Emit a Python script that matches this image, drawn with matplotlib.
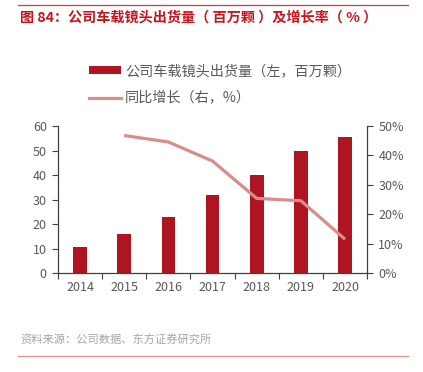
import matplotlib
matplotlib.use("Agg")
import matplotlib.pyplot as plt
from matplotlib.lines import Line2D
from matplotlib.patches import Patch
from matplotlib.ticker import FuncFormatter

plt.rcParams['font.family'] = ['Noto Sans CJK SC', 'DejaVu Sans']

# data
years = ['2014', '2015', '2016', '2017', '2018', '2019', '2020']
shipments = [10.8, 16.0, 23.0, 31.8, 40.0, 49.7, 55.5]   # 百万颗
growth_years = ['2015', '2016', '2017', '2018', '2019', '2020']
growth = [46.8, 44.6, 38.1, 25.4, 24.6, 11.5]           # %

bar_color = '#AE1520'
line_color = '#D98C8C'
axis_color = '#404040'
text_gray = '#595959'

fig = plt.figure(figsize=(4.23, 3.72), dpi=100)
ax = fig.add_axes([0.137, 0.266, 0.731, 0.395])

x = list(range(len(years)))
ax.bar(x, shipments, width=0.31, color=bar_color, zorder=2)
ax.set_xlim(-0.5, len(years) - 0.5)
ax.set_ylim(0, 60)
ax.set_yticks(range(0, 61, 10))

# x ticks between categories, labels centred on bars
ax.set_xticks([i - 0.5 for i in range(len(years) + 1)])
ax.set_xticklabels([])
ax.set_xticks(x, minor=True)
ax.set_xticklabels(years, minor=True)
ax.tick_params(axis='x', which='minor', length=0, pad=6, labelsize=9, labelcolor=text_gray)
ax.tick_params(axis='x', which='major', direction='out', length=4, color=axis_color)
ax.tick_params(axis='y', direction='out', length=4, color=axis_color, labelsize=9,
               labelcolor=text_gray, pad=4)

for s in ['top', 'right']:
    ax.spines[s].set_visible(False)
for s in ['left', 'bottom']:
    ax.spines[s].set_color(axis_color)
    ax.spines[s].set_linewidth(0.9)

ax2 = ax.twinx()
gx = [years.index(y) for y in growth_years]
ax2.plot(gx, growth, color=line_color, linewidth=2.3, solid_capstyle='butt', zorder=3)
ax2.set_ylim(0, 50)
ax2.set_yticks(range(0, 51, 10))
ax2.yaxis.set_major_formatter(FuncFormatter(lambda v, p: f'{v:.0f}%'))
ax2.tick_params(axis='y', direction='out', length=4, color=axis_color, labelsize=9,
                labelcolor=text_gray, pad=4)
for s in ['top', 'left', 'bottom']:
    ax2.spines[s].set_visible(False)
ax2.spines['right'].set_color(axis_color)
ax2.spines['right'].set_linewidth(0.9)

# legend
handles = [Patch(facecolor=bar_color, edgecolor='none'),
           Line2D([], [], color=line_color, linewidth=2.3)]
labels = ['公司车载镜头出货量（左，百万颗）', '同比增长（右，%）']
leg = fig.legend(handles, labels, loc='upper left', bbox_to_anchor=(0.198, 0.843),
                 frameon=False, fontsize=10.2, handlelength=2.2, handleheight=0.45,
                 handletextpad=0.3, labelspacing=0.95, borderaxespad=0)
for t in leg.get_texts():
    t.set_color(text_gray)

# title and source with the report rules
fig.add_artist(Line2D([18 / 423, 408 / 423], [1 - 4.5 / 372] * 2, color='#D9363E', linewidth=0.9))
fig.text(20 / 423, 1 - 18 / 372, '图 84：公司车载镜头出货量（ 百万颗 ）及增长率（ % ）',
         color='#C8141E', fontsize=10.2, fontweight='bold', va='center', ha='left')
fig.text(20 / 423, 1 - 340 / 372, '资料来源：公司数据、东方证券研究所',
         color='#A6A6A6', fontsize=8.1, va='center', ha='left')
fig.add_artist(Line2D([18 / 423, 408 / 423], [1 - 356 / 372] * 2, color='#E8908A', linewidth=0.9))

fig.savefig('out.png', dpi=100)
